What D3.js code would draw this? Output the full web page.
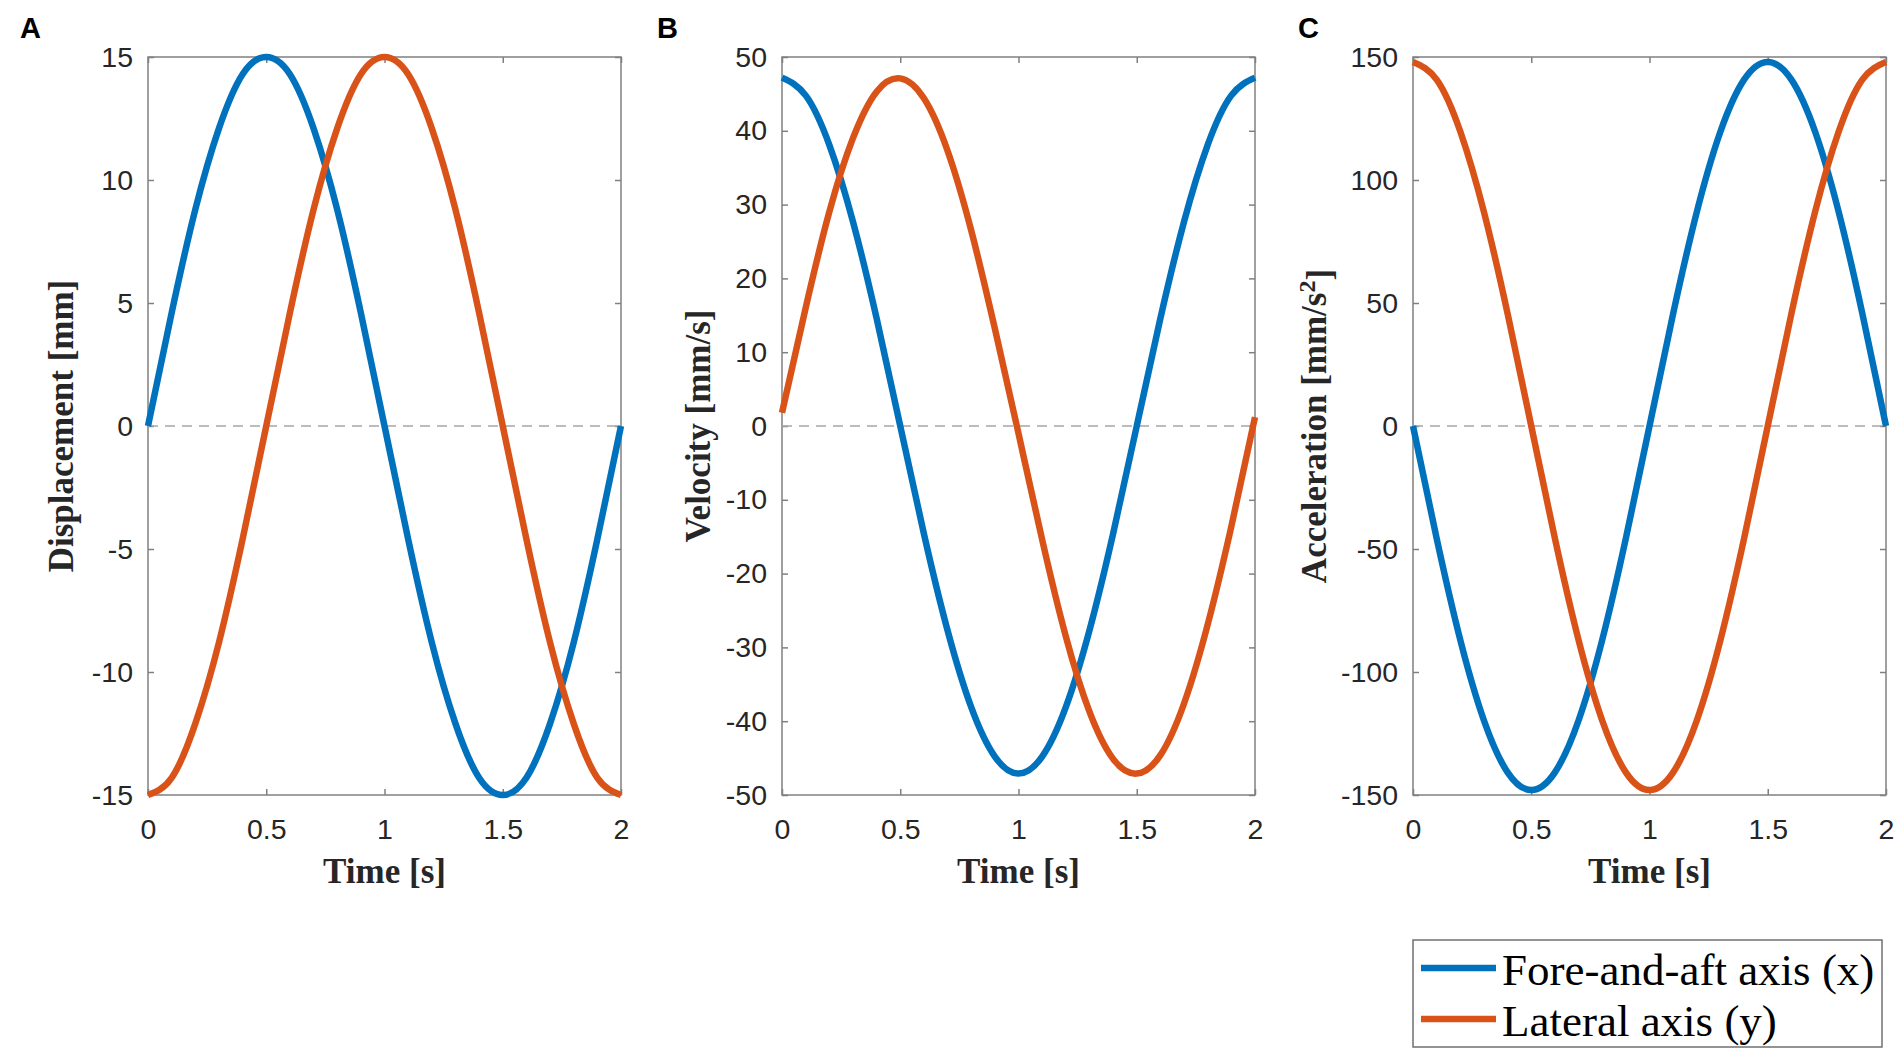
<!DOCTYPE html>
<html>
<head>
<meta charset="utf-8">
<script src="https://cdn.jsdelivr.net/npm/d3@7/dist/d3.min.js"></script>
<style>
  body { margin: 0; background: #fff; }
</style>
</head>
<body>
<script>
"use strict";
// time samples [s]
const time = [0, 0.1, 0.2, 0.3, 0.4, 0.5, 0.6, 0.7, 0.8, 0.9, 1.0,
              1.1, 1.2, 1.3, 1.4, 1.5, 1.6, 1.7, 1.8, 1.9, 2.0];

// A: displacement [mm]
const dispX = [0, 4.6, 8.8, 12.1, 14.3, 15, 14.3, 12.1, 8.8, 4.6, 0,
               -4.6, -8.8, -12.1, -14.3, -15, -14.3, -12.1, -8.8, -4.6, 0];
const dispY = [-15, -14.3, -12.1, -8.8, -4.6, 0, 4.6, 8.8, 12.1, 14.3, 15,
               14.3, 12.1, 8.8, 4.6, 0, -4.6, -8.8, -12.1, -14.3, -15];

// B: velocity [mm/s]
const velX = [47.2, 44.8, 38.1, 27.7, 14.6, 0, -14.6, -27.7, -38.1, -44.8, -47.1,
              -44.8, -38.1, -27.7, -14.6, 0, 14.6, 27.7, 38.1, 44.8, 47.2];
const velY = [1.8, 16.0, 29.0, 39.0, 45.3, 47.1, 44.4, 37.3, 26.5, 13.2, -1.0,
              -15.4, -28.5, -38.7, -45.1, -47.1, -44.6, -37.6, -26.9, -13.6, 1.2];

// C: acceleration [mm/s^2]
const accX = [0, -45.7, -87.0, -119.7, -140.8, -148, -140.8, -119.7, -87.0, -45.7, 0,
              45.7, 87.0, 119.7, 140.8, 148, 140.8, 119.7, 87.0, 45.7, 0];
const accY = [148, 140.8, 119.7, 87.0, 45.7, 0, -45.7, -87.0, -119.7, -140.8, -148,
              -140.8, -119.7, -87.0, -45.7, 0, 45.7, 87.0, 119.7, 140.8, 148];

const xTicks = [0, 0.5, 1, 1.5, 2];
const dispTicks = [-15, -10, -5, 0, 5, 10, 15];
const velTicks = [-50, -40, -30, -20, -10, 0, 10, 20, 30, 40, 50];
const accTicks = [-150, -100, -50, 0, 50, 100, 150];

const seriesNames = ["Fore-and-aft axis (x)", "Lateral axis (y)"];
const colors = ["#0072BD", "#D95319"];

const panels = [
  { tag: "A", label: "Displacement [mm]", ticks: dispTicks, series: [dispX, dispY],
    left: 148, tagX: 20, labelX: 73 },
  { tag: "B", label: "Velocity [mm/s]", ticks: velTicks, series: [velX, velY],
    left: 782, tagX: 657, labelX: 710 },
  { tag: "C", label: "Acceleration [mm/s", sup: "2", ticks: accTicks, series: [accX, accY],
    left: 1413, tagX: 1298, labelX: 1326 }
];

const W = 1901, H = 1055;
const plotW = 473, plotH = 738, plotTop = 57;
const axisGray = "#808080", textColor = "#262626";
const lineW = 6.5;

const svg = d3.select("body").append("svg")
  .attr("width", W)
  .attr("height", H);

panels.forEach(p => {
  const x = d3.scaleLinear().domain([0, 2]).range([0, plotW]);
  const y = d3.scaleLinear().domain(d3.extent(p.ticks)).range([plotH, 0]);

  const g = svg.append("g").attr("transform", `translate(${p.left},${plotTop})`);

  // frame
  g.append("rect")
    .attr("width", plotW).attr("height", plotH)
    .attr("fill", "none").attr("stroke", axisGray).attr("stroke-width", 1.5);

  // bottom axis with labels
  const xb = g.append("g").attr("transform", `translate(0,${plotH})`)
    .call(d3.axisBottom(x).tickValues(xTicks).tickSizeInner(-6).tickSizeOuter(0)
      .tickPadding(24).tickFormat(d => String(d)));
  // top axis, ticks only
  const xt = g.append("g")
    .call(d3.axisTop(x).tickValues(xTicks).tickSizeInner(-6).tickSizeOuter(0).tickFormat(""));
  // left axis with labels
  const yl = g.append("g")
    .call(d3.axisLeft(y).tickValues(p.ticks).tickSizeInner(-6).tickSizeOuter(0)
      .tickPadding(15).tickFormat(d => String(d)));
  // right axis, ticks only
  const yr = g.append("g").attr("transform", `translate(${plotW},0)`)
    .call(d3.axisRight(y).tickValues(p.ticks).tickSizeInner(-6).tickSizeOuter(0).tickFormat(""));

  [xb, xt, yl, yr].forEach(a => {
    a.select(".domain").remove();
    a.selectAll(".tick line").attr("stroke", axisGray).attr("stroke-width", 1.5);
    a.selectAll(".tick text")
      .attr("fill", textColor)
      .style("font-family", "'Liberation Sans', Arial, Helvetica, sans-serif")
      .style("font-size", "28.5px");
  });

  // dashed zero line
  g.append("line")
    .attr("x1", 0).attr("x2", plotW)
    .attr("y1", y(0)).attr("y2", y(0))
    .attr("stroke", "#a6a6a6").attr("stroke-width", 1.6)
    .attr("stroke-dasharray", "10,7");

  // curves
  const line = d3.line()
    .x((d, i) => x(time[i]))
    .y(d => y(d))
    .curve(d3.curveNatural);

  p.series.forEach((s, k) => {
    g.append("path")
      .datum(s)
      .attr("d", line)
      .attr("fill", "none")
      .attr("stroke", colors[k])
      .attr("stroke-width", lineW);
  });

  // x title
  g.append("text")
    .attr("x", plotW / 2).attr("y", plotH + 88)
    .attr("text-anchor", "middle")
    .attr("fill", textColor)
    .style("font-family", "'Liberation Serif', 'Times New Roman', serif")
    .style("font-weight", "bold")
    .style("font-size", "35px")
    .text("Time [s]");

  // y title
  const yt = svg.append("text")
    .attr("transform", `translate(${p.labelX},${plotTop + plotH / 2}) rotate(-90)`)
    .attr("text-anchor", "middle")
    .attr("fill", textColor)
    .style("font-family", "'Liberation Serif', 'Times New Roman', serif")
    .style("font-weight", "bold")
    .style("font-size", "35px");
  yt.append("tspan").text(p.label);
  if (p.sup) {
    yt.append("tspan").attr("dy", "-0.45em").style("font-size", "24px").text(p.sup);
    yt.append("tspan").attr("dy", "0.45em").text("]");
  }

  // panel tag
  svg.append("text")
    .attr("x", p.tagX).attr("y", 38)
    .attr("fill", "#000")
    .style("font-family", "'Liberation Sans', Arial, Helvetica, sans-serif")
    .style("font-weight", "bold")
    .style("font-size", "29px")
    .text(p.tag);
});

// legend
const leg = svg.append("g").attr("transform", "translate(1413,940)");
leg.append("rect")
  .attr("width", 469).attr("height", 107)
  .attr("fill", "#fff").attr("stroke", "#707070").attr("stroke-width", 1.5);

seriesNames.forEach((name, k) => {
  const cy = 28 + k * 51;
  leg.append("line")
    .attr("x1", 8).attr("x2", 83)
    .attr("y1", cy).attr("y2", cy)
    .attr("stroke", colors[k]).attr("stroke-width", lineW);
  leg.append("text")
    .attr("x", 89).attr("y", cy + 17)
    .attr("fill", "#000")
    .style("font-family", "'Liberation Serif', 'Times New Roman', serif")
    .style("font-size", "45px")
    .text(name);
});
</script>
</body>
</html>
